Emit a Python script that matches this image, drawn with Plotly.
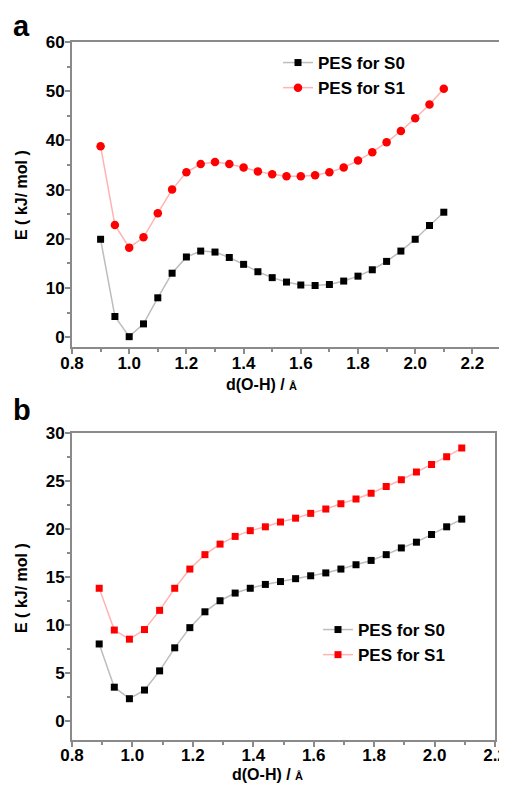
import plotly.graph_objects as go

# ---- data ----
x_a = [0.90, 0.95, 1.00, 1.05, 1.10, 1.15, 1.20, 1.25, 1.30, 1.35, 1.40, 1.45, 1.50,
       1.55, 1.60, 1.65, 1.70, 1.75, 1.80, 1.85, 1.90, 1.95, 2.00, 2.05, 2.10]
s0_a = [19.9, 4.2, 0.1, 2.7, 8.0, 13.0, 16.3, 17.5, 17.3, 16.2, 14.8, 13.3, 12.1,
        11.2, 10.6, 10.5, 10.7, 11.4, 12.4, 13.7, 15.4, 17.5, 19.9, 22.7, 25.4]
s1_a = [38.8, 22.8, 18.2, 20.3, 25.2, 30.0, 33.5, 35.2, 35.6, 35.2, 34.5, 33.7, 33.1,
        32.7, 32.7, 32.9, 33.5, 34.5, 35.9, 37.6, 39.6, 41.9, 44.5, 47.3, 50.5]

x_b = [0.89, 0.94, 0.99, 1.04, 1.09, 1.14, 1.19, 1.24, 1.29, 1.34, 1.39, 1.44, 1.49,
       1.54, 1.59, 1.64, 1.69, 1.74, 1.79, 1.84, 1.89, 1.94, 1.99, 2.04, 2.09]
s0_b = [8.0, 3.5, 2.3, 3.2, 5.2, 7.6, 9.7, 11.35, 12.5, 13.3, 13.8, 14.2, 14.5,
        14.8, 15.1, 15.4, 15.8, 16.25, 16.7, 17.3, 18.0, 18.6, 19.4, 20.2, 21.0]
s1_b = [13.8, 9.45, 8.5, 9.5, 11.5, 13.8, 15.8, 17.3, 18.4, 19.2, 19.8, 20.2, 20.7,
        21.1, 21.6, 22.05, 22.6, 23.1, 23.7, 24.4, 25.1, 25.9, 26.7, 27.5, 28.4]

names = ["PES for S0", "PES for S1"]
x_title = "d(O-H) / <span style='font-size:11px'>Å</span>"
y_title = "E ( kJ/ mol )"

# the page body has an 8px margin; the figure fills the rest of the window
OFF = 8
W, H = 507 - OFF, 787 - OFF
FONT = "Liberation Sans, Arial, sans-serif"
AXC = "#8a8a8a"
S0_LINE = "#bdbdbd"
S1_LINE = "#ffb3b3"

fig = go.Figure()

# panel a
fig.add_trace(go.Scatter(x=x_a, y=s0_a, name=names[0], mode="lines+markers",
                         line=dict(color=S0_LINE, width=1.5),
                         marker=dict(symbol="square", size=7, color="#000000"),
                         xaxis="x", yaxis="y", legend="legend"))
fig.add_trace(go.Scatter(x=x_a, y=s1_a, name=names[1], mode="lines+markers",
                         line=dict(color=S1_LINE, width=1.5),
                         marker=dict(symbol="circle", size=8.5, color="#ff0000"),
                         xaxis="x", yaxis="y", legend="legend"))
# panel b
fig.add_trace(go.Scatter(x=x_b, y=s0_b, name=names[0], mode="lines+markers",
                         line=dict(color=S0_LINE, width=1.5),
                         marker=dict(symbol="square", size=7, color="#000000"),
                         xaxis="x2", yaxis="y2", legend="legend2"))
fig.add_trace(go.Scatter(x=x_b, y=s1_b, name=names[1], mode="lines+markers",
                         line=dict(color=S1_LINE, width=1.5),
                         marker=dict(symbol="square", size=7, color="#ff0000"),
                         xaxis="x2", yaxis="y2", legend="legend2"))

tickfont = dict(family=FONT, size=17, color="#000", weight="bold")


def ax(domain, rng, dtick, minor, anchor, standoff):
    return dict(domain=domain, range=rng, dtick=dtick, tick0=0, showgrid=False,
                zeroline=False, showline=True, linecolor=AXC, linewidth=2,
                mirror=True, ticks="outside", ticklen=5, tickwidth=1.5,
                tickcolor=AXC, tickfont=tickfont, anchor=anchor, automargin=False,
                ticklabelstandoff=standoff,
                minor=dict(ticks="outside", ticklen=3, tickwidth=1.5,
                           tickcolor=AXC, dtick=minor, showgrid=False))


def fx(px):
    return (px - OFF) / W


def fy(py):
    return 1 - (py - OFF) / H


fig.update_layout(
    template="none",
    width=W, height=H, margin=dict(l=0, r=0, t=0, b=0, autoexpand=False),
    paper_bgcolor="white", plot_bgcolor="white",
    xaxis=dict(**ax([fx(72), fx(501)], [0.8, 2.3], 0.2, 0.1, "y", -5), tickformat=".1f"),
    yaxis=dict(**ax([fy(347), fy(42)], [-2, 60], 10, 5, "x", -3)),
    xaxis2=dict(**ax([fx(72), fx(495)], [0.8, 2.2], 0.2, 0.1, "y2", -6), tickformat=".1f"),
    yaxis2=dict(**ax([fy(740), fy(432.7)], [-2, 30], 5, 2.5, "x2", -3)),
    legend=dict(x=fx(278), y=fy(45), xanchor="left", yanchor="top",
                bgcolor="rgba(0,0,0,0)", tracegroupgap=0,
                font=dict(family=FONT, size=17, color="#000", weight="bold")),
    legend2=dict(x=fx(318), y=fy(612), xanchor="left", yanchor="top",
                 bgcolor="rgba(0,0,0,0)", tracegroupgap=0,
                 font=dict(family=FONT, size=17, color="#000", weight="bold")),
    showlegend=True,
)

ann_font = dict(family=FONT, size=16, color="#000", weight="bold")
annotations = [
    dict(text="a", x=fx(11), y=fy(8), xanchor="left", yanchor="top",
         font=dict(family=FONT, size=29, color="#000", weight="bold")),
    dict(text="b", x=fx(11), y=fy(392), xanchor="left", yanchor="top",
         font=dict(family=FONT, size=29, color="#000", weight="bold")),
    dict(text=x_title, x=fx(262), y=fy(384), xanchor="center", yanchor="middle", font=ann_font),
    dict(text=x_title, x=fx(267), y=fy(774), xanchor="center", yanchor="middle", font=ann_font),
    dict(text=y_title, x=fx(21), y=fy(195), xanchor="center", yanchor="middle",
         textangle=-90, font=ann_font),
    dict(text=y_title, x=fx(21), y=fy(588), xanchor="center", yanchor="middle",
         textangle=-90, font=ann_font),
]
for a in annotations:
    a.update(xref="paper", yref="paper", showarrow=False)
fig.update_layout(annotations=annotations)

fig.write_html("out.html")
